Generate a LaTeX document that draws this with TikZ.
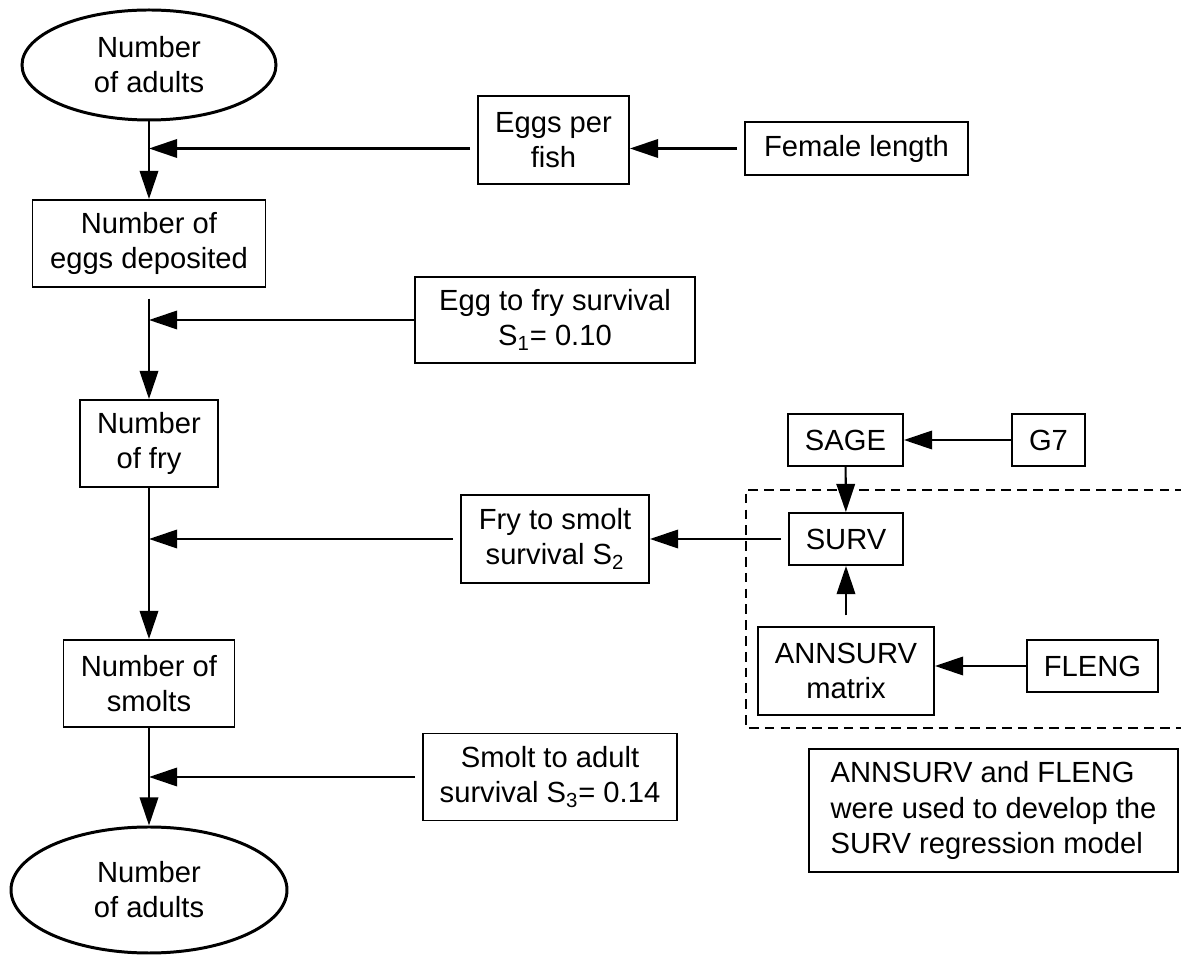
\documentclass[tikz,border=0pt]{standalone}
\usepackage{fontspec}
\setmainfont{Liberation Sans}
\usetikzlibrary{arrows.meta,shapes.geometric}

\tikzset{
  base/.style={draw, line width=1.1pt, inner sep=0pt, align=center,
    font=\fontsize{16.6}{20}\selectfont},
  sz/.style 2 args={minimum width=#1*0.02cm, minimum height=#2*0.02cm},
  box/.style={base, rectangle},
  oval/.style={base, ellipse, line width=1.7pt},
  arr/.style={line width=1.2pt, -{Triangle[length=16pt,width=10.5pt]}},
  gap/.style={shorten <=4pt},
  zone/.style={line width=1.2pt, dash pattern=on 5.5pt off 3.5pt},
}

\begin{document}
\begin{tikzpicture}[x=0.02cm, y=-0.02cm]
\useasboundingbox (0,0) rectangle (1181,955);

% main life-cycle column
\node[oval, sz={254}{110}] (ad1) at (149,65) {Number\\of adults};
\node[box, sz={233}{87}] (eggsdep) at (149,243.5) {Number of\\eggs deposited};
\node[box, sz={138}{87}] (fry) at (149,443.5) {Number\\of fry};
\node[box, sz={171}{87}] (smolts) at (149,683.5) {Number of\\smolts};
\node[oval, sz={276}{126}] (ad2) at (149,890) {Number\\of adults};

% rates feeding the column
\node[box, sz={151}{88}] (eggsper) at (553.5,140) {Eggs per\\fish};
\node[box, sz={223}{53}] (female) at (856.5,148.5) {Female length};
\node[box, sz={280}{86}] (eggfry) at (555,320) {Egg to fry survival\\S\textsubscript{1}= 0.10};
\node[box, sz={188}{88}] (frysmolt) at (555,539) {Fry to smolt\\survival S\textsubscript{2}};
\node[box, sz={254}{87}] (smoltadult) at (550,777) {Smolt to adult\\survival S\textsubscript{3}= 0.14};

% survival regression sub-model
\node[box, sz={115}{52}] (sage) at (845.5,440) {SAGE};
\node[box, sz={73}{52}] (g7) at (1048.5,440) {G7};
\node[box, sz={114}{52}] (surv) at (846,539) {SURV};
\node[box, sz={176}{88}] (annsurv) at (846,671) {ANNSURV\\matrix};
\node[box, sz={131}{52}] (fleng) at (1092.5,666) {FLENG};
\node[box, sz={369}{123}, align=left] (note) at (993.5,810.5)
  {ANNSURV and FLENG\\were used to develop the\\SURV regression model};

% dashed frame around the regression model (open to the right)
\coordinate (zt) at (1185,490);
\coordinate (zb) at (1185,728);
\draw[zone] (zt) -- (746,490) -- (746,728) -- (zb);

% connectors
\draw[arr] (ad1) -- (eggsdep);
\draw[arr, gap] (female.west -| eggsper.west) -- (female.west -| ad1.south);
\draw[arr, gap] (female.west) -- (female.west -| eggsper.east);
\draw[arr, shorten <=6pt] (eggsdep) -- (fry);
\draw[arr] (eggfry.west) -- (eggfry.west -| eggsdep.south);
\draw[arr] (fry) -- (smolts);
\draw[arr, gap] (frysmolt.west) -- (frysmolt.west -| fry.south);
\draw[arr, gap] (surv) -- (frysmolt);
\draw[arr] (smolts) -- (ad2);
\draw[arr, gap] (smoltadult.west) -- (smoltadult.west -| smolts.south);
\draw[arr] (sage) -- (surv);
\draw[arr] (g7) -- (sage);
\draw[arr, shorten <=6pt] (annsurv) -- (surv);
\draw[arr] (fleng.west) -- (fleng.west -| annsurv.east);
\end{tikzpicture}
\end{document}
